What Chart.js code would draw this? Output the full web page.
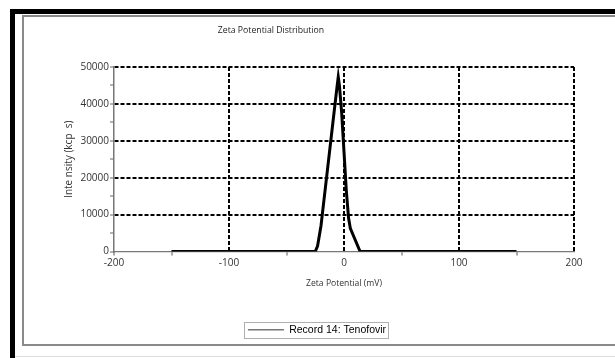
<!DOCTYPE html>
<html>
<head>
<meta charset="utf-8">
<title>Zeta Potential Distribution</title>
<script src="https://cdn.jsdelivr.net/npm/chart.js@4.4.0/dist/chart.umd.min.js"></script>
<style>
  html, body { margin: 0; padding: 0; background: #fff; overflow: hidden; }
  body { width: 615px; height: 358px; position: relative; }
  .frame-outer { position: absolute; left: 10px; top: 9px; width: 700px; height: 400px;
    border-left: 5px solid #000; border-top: 5px solid #000; }
  .frame-inner { position: absolute; left: 22px; top: 15px; width: 700px; height: 327px;
    border: 2px solid #8a8a8a; border-right: none; }
  .frame-foot { position: absolute; left: 15px; top: 356px; width: 700px; height: 1px; background: #ddd; }
  .wrap { position: absolute; left: 0; top: 0; width: 615px; height: 358px; }
</style>
</head>
<body>
<div class="frame-outer"></div>
<div class="frame-inner"></div>
<div class="frame-foot"></div>
<div class="wrap"><canvas id="zetaChart" width="615" height="358"></canvas></div>
<script>
  // Values
  const chartTitle = "Zeta Potential Distribution";
  const seriesLabel = "Record 14: Tenofovir";
  const zetaMv = [-150, -25, -23, -20, -15, -10, -6, -5, -4, -2, 0, 2, 4, 5.5, 14, 150];
  const intensity = [0, 0, 1500, 7000, 20500, 34000, 44800, 47300, 45000, 37500, 27000, 16500, 9000, 6300, 0, 0];
  const xTicks = [-200, -100, 0, 100, 200];
  const yTicks = [0, 10000, 20000, 30000, 40000, 50000];

  const tickFont = { family: "'Open Sans', sans-serif", size: 10 };
  const isMajorX = (v) => xTicks.includes(v);
  const isMajorY = (v) => yTicks.includes(v);

  // Title drawn at its place above the plot + thin box round the legend
  const frameAndTitle = {
    id: "frameAndTitle",
    afterDraw(chart) {
      const c = chart.ctx;
      c.save();
      c.font = "8.7px 'Open Sans', sans-serif";
      c.fillStyle = "#222";
      c.textAlign = "center";
      c.textBaseline = "middle";
      c.fillText(chartTitle, 271, 31);
      const hb = chart.legend && chart.legend.legendHitBoxes[0];
      if (hb) {
        c.strokeStyle = "#b0b0b0";
        c.lineWidth = 1;
        c.strokeRect(Math.round(hb.left) - 3.5, Math.round(hb.top) - 2.5,
          Math.round(hb.width) + 6, Math.round(hb.height) + 5);
      }
      c.restore();
    }
  };

  const ctx = document.getElementById("zetaChart").getContext("2d");
  new Chart(ctx, {
    type: "scatter",
    data: {
      datasets: [{
        label: seriesLabel,
        data: zetaMv.map((x, i) => ({ x, y: intensity[i] })),
        showLine: true,
        borderColor: "#000",
        borderWidth: 3,
        pointRadius: 0,
        tension: 0
      }]
    },
    options: {
      responsive: false,
      animation: false,
      devicePixelRatio: 1,
      layout: { padding: { left: 60, right: 41, top: 67, bottom: 13 } },
      scales: {
        x: {
          type: "linear",
          min: -200,
          max: 200,
          afterFit: (s) => { s.height = 67; },
          ticks: {
            stepSize: 50,
            autoSkip: false,
            maxRotation: 0,
            padding: 2,
            color: "#333",
            font: tickFont,
            callback: (v) => (isMajorX(v) ? v : "")
          },
          grid: {
            color: (c) => (c.tick && isMajorX(c.tick.value) && c.tick.value !== -200 ? "#000" : "transparent"),
            lineWidth: 2,
            tickColor: (c) => (c.tick && (!isMajorX(c.tick.value) || c.tick.value === -200) ? "#555" : "transparent"),
            tickLength: 4,
            tickWidth: 1
          },
          border: { color: "#777", width: 1.2, dash: [4, 2] },
          title: {
            display: true,
            text: "Zeta Potential (mV)",
            color: "#333",
            font: { family: "'Open Sans', sans-serif", size: 8.6 },
            padding: { top: 0, bottom: 30 }
          }
        },
        y: {
          min: 0,
          max: 50000,
          afterFit: (s) => { s.width = 54; },
          ticks: {
            stepSize: 5000,
            autoSkip: false,
            padding: 1,
            color: "#333",
            font: tickFont,
            callback: (v) => (isMajorY(v) ? v : "")
          },
          grid: {
            color: (c) => (c.tick && isMajorY(c.tick.value) && c.tick.value !== 0 ? "#000" : "transparent"),
            lineWidth: 2,
            tickColor: "#666",
            tickLength: 4,
            tickWidth: 1
          },
          border: { color: "#777", width: 1.5, dash: [4, 2] },
          title: {
            display: true,
            text: "Inte nsity (kcp  s)",
            color: "#333",
            font: tickFont,
            padding: { top: 3, bottom: 0 }
          }
        }
      },
      plugins: {
        legend: {
          position: "bottom",
          onClick: null,
          labels: {
            usePointStyle: true,
            pointStyleWidth: 36,
            padding: 6,
            color: "#111",
            font: { family: "'Liberation Sans', Arial, sans-serif", size: 10.5 },
            generateLabels: (chart) => [{
              text: chart.data.datasets[0].label,
              strokeStyle: "#777",
              fillStyle: "#777",
              lineWidth: 1.5,
              pointStyle: "line",
              hidden: false,
              datasetIndex: 0
            }]
          }
        },
        tooltip: { enabled: false }
      }
    },
    plugins: [frameAndTitle]
  });
</script>
</body>
</html>
